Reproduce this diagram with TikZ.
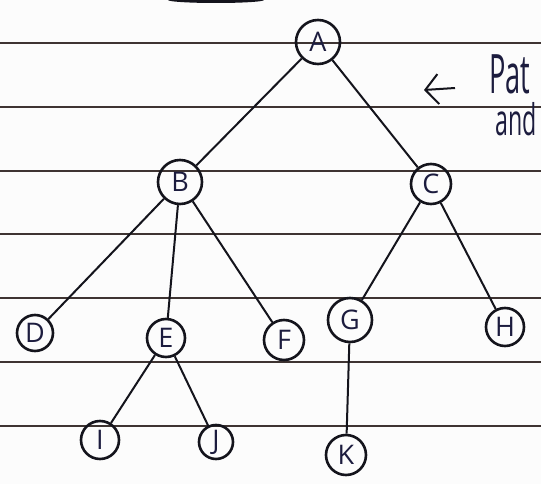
\documentclass[tikz,border=0pt]{standalone}
\usepackage{fontspec}
\setmainfont{Open Sans}
\usepackage{xcolor}
\definecolor{paper}{RGB}{252,252,252}
\definecolor{rule}{RGB}{62,52,50}
\definecolor{ink}{RGB}{28,28,62}
\definecolor{pen}{RGB}{20,20,28}
\usetikzlibrary{arrows.meta}
\tikzset{
  %% tree nodes: hand drawn circles
  vtx/.style={circle, draw=pen, line width=2.6pt, inner sep=0pt,
              text=ink, font=\fontsize{27}{27}\selectfont},
  edge/.style={draw=pen, line width=2pt},
  ruled/.style={draw=rule, line width=2pt},
  note/.style={text=ink, anchor=west, inner sep=0pt},
}

\begin{document}
\begin{tikzpicture}[x=1pt,y=-1pt]
\useasboundingbox[fill=paper] (0,0) rectangle (541,484);
\clip (0,0) rectangle (541,484);

%% notebook lines
\foreach \yy in {43,107,171,234,298,362,426}
  \draw[ruled] (0,\yy) -- (541,\yy);
\fill[pen] (216,0) ellipse (48 and 3);

%% tree
\node[vtx, minimum size=44] (a) at (318,42)  {A};
\node[vtx, minimum size=44] (b) at (180,182) {B};
\node[vtx, minimum size=40] (c) at (431,184) {C};
\node[vtx, minimum size=36] (d) at (35,333)  {D};
\node[vtx, minimum size=38] (e) at (166,338) {E};
\node[vtx, minimum size=30, minimum height=40] (f) at (284,340) {F};
\node[vtx, minimum size=44] (g) at (350,320) {G};
\node[vtx, minimum size=38] (h) at (505,327) {H};
\node[vtx, minimum size=38] (i) at (100,440) {I};
\node[vtx, minimum size=34] (j) at (216,442) {J};
\node[vtx, minimum size=40] (k) at (346,455) {K};

\foreach \p/\q in {a/b, a/c, b/d, b/e, b/f, c/g, c/h, e/i, e/j, g/k}
  \draw[edge] (\p) -- (\q);

%% side note at the page edge
\node[note, font=\fontsize{34}{34}\selectfont] (path) at (489,74)
  {\scalebox{0.8}[1.6]{Pat}};
\node[note, font=\fontsize{29}{29}\selectfont] (and) at (495,119)
  {\scalebox{0.8}[1.5]{and}};
\coordinate (tail) at (455,88);
\coordinate (tip) at (424,90);
\draw[edge, -{Straight Barb[length=13pt,width=30pt]}] (tail) -- (tip);
\end{tikzpicture}
\end{document}
